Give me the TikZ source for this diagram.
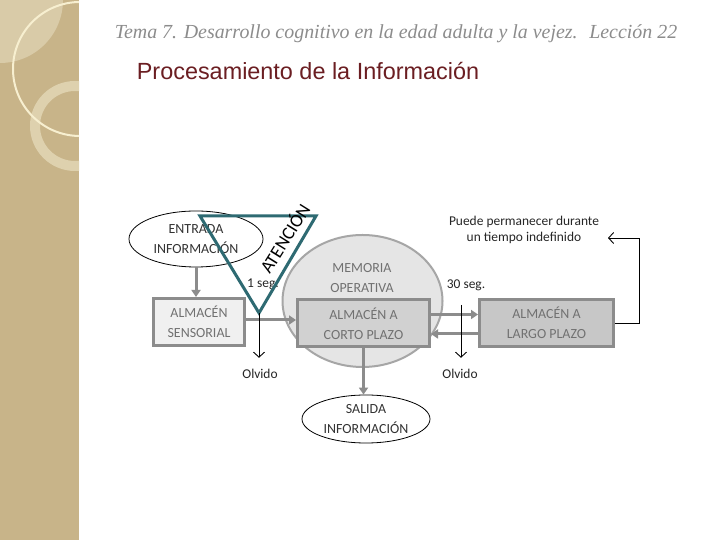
\documentclass[tikz,border=0pt]{standalone}
\usepackage{fontspec}
\setmainfont{Carlito}
\newfontfamily\headfont{Liberation Sans}
\newfontfamily\temafont{Liberation Serif}
\usepackage{xcolor}
\usepackage{tikz}
\usetikzlibrary{shapes,shapes.geometric,arrows.meta,positioning}

\definecolor{sidetan}{HTML}{C8B489}
\definecolor{sidelight}{HTML}{D9CBA8}
\definecolor{sidecream}{HTML}{F7EFD0}
\definecolor{sidering}{HTML}{DED1AE}
\definecolor{boxedge}{HTML}{8C8C8C}
\definecolor{boxtext}{HTML}{717171}
\definecolor{attn}{HTML}{2E6A72}
\definecolor{headred}{HTML}{6B1E22}

\tikzset{
  almbox/.style={draw=boxedge, line width=3bp, minimum height=47bp, align=center,
    text=boxtext, font=\fontsize{14}{20}\selectfont},
  infoell/.style={draw, ellipse, line width=0.8bp, align=center, inner sep=0pt,
    text=black!80, font=\fontsize{14}{20}\selectfont},
  grayarr/.style={draw=boxedge, line width=3bp, -{Triangle[length=7bp,width=9bp]}},
  lostarr/.style={black, line width=0.9bp, -{Straight Barb[length=5bp,width=11bp]}},
  smalltxt/.style={font=\fontsize{13.5}{16}\selectfont, text=black!85},
}

\begin{document}
\begin{tikzpicture}[x=1bp, y=1bp]
\useasboundingbox (0,0) rectangle (720,540);
\fill[white] (0,0) rectangle (720,540);
% Sidebar with rings
\fill[sidetan] (0,0) rectangle (79,540);
\begin{scope}
\clip (0,0) rectangle (79,540);
\fill[sidelight] (0,540) circle (63);
\draw[sidering, line width=10bp] (75,414) circle (40);
\draw[sidecream, line width=2bp] (80,471) circle (67);
\end{scope}
% Headings
\node[font=\temafont\itshape\fontsize{20}{22}\selectfont, text=black!45] (tema) at (396,506)
  {Tema 7. Desarrollo cognitivo en la edad adulta y la vejez.~ Lección 22};
\node[font=\headfont\fontsize{23.5}{26}\selectfont, text=headred] (proc) at (308,469)
  {Procesamiento de la Información};
% Ellipse: Entrada
\node[infoell, minimum width=134bp, minimum height=56bp] (entrada) at (196,301)
  {ENTRADA\\INFORMACIÓN};
% Box: Almacen sensorial
\node[almbox, fill=black!6, minimum width=91bp] (sensorial) at (199,218)
  {ALMACÉN\\SENSORIAL};
% Memoria operativa
\node[ellipse, draw=black!35, line width=2bp, fill=black!10, minimum width=160bp,
  minimum height=132bp] (memoria) at (362.5,239) {};
\node[text=boxtext, align=center, font=\fontsize{14}{20}\selectfont] (memtxt) at (362,262)
  {MEMORIA\\OPERATIVA};
% Box: Corto plazo
\node[almbox, fill=black!18, minimum width=132bp] (corto) at (363.5,216.5)
  {ALMACÉN A\\CORTO PLAZO};
% Box: Largo plazo
\node[almbox, fill=black!22, minimum width=134bp] (largo) at (546.5,217)
  {ALMACÉN A\\LARGO PLAZO};
% Ellipse: Salida
\node[infoell, minimum width=128bp, minimum height=48bp] (salida) at (366,121)
  {SALIDA\\INFORMACIÓN};
% Labels
\node[smalltxt, align=center] (puede) at (524,310) {Puede permanecer durante\\un tiempo indefinido};
\node[smalltxt] (seg1) at (263,256) {1 seg.};
\node[smalltxt] (seg30) at (466,255) {30 seg.};
\node[smalltxt] (olvidoL) at (260,166) {Olvido};
\node[smalltxt] (olvidoR) at (460,166) {Olvido};
% Gray arrows
\coordinate (sOut) at ([yshift=2bp]sensorial.east);
\coordinate (cOut) at ([yshift=9bp]corto.east);
\coordinate (lOut) at ([yshift=-11bp]largo.west);
\draw[grayarr] (entrada.south) -- (entrada.south |- sensorial.north);
\draw[grayarr] (sOut) -- (corto.west |- sOut);
\draw[grayarr] (cOut) -- (largo.west |- cOut);
\draw[grayarr] (lOut) -- (corto.east |- lOut);
\draw[grayarr] (corto.south) -- (corto.south |- salida.north);
% Atencion triangle
\coordinate (tA) at (200,324);
\coordinate (tB) at (316,324);
\coordinate (tC) at (259,227);
\draw[attn, line width=3bp, line join=miter] (tA) -- (tB) -- (tC) -- cycle;
\node[font=\fontsize{18.5}{20}\selectfont, rotate=58, inner sep=0pt] (atencion) at (284,302) {ATENCIÓN};
% Olvido arrows
\coordinate (f30) at (461,235);
\draw[lostarr] (tC) -- ([yshift=8bp]olvidoL.north -| tC);
\draw[lostarr] (f30) -- ([yshift=8bp]olvidoR.north -| f30);
% Feedback arrow
\coordinate (back) at (608,302);
\draw[lostarr] (largo.east) -- ++(24,0) |- (back);
\end{tikzpicture}
\end{document}
